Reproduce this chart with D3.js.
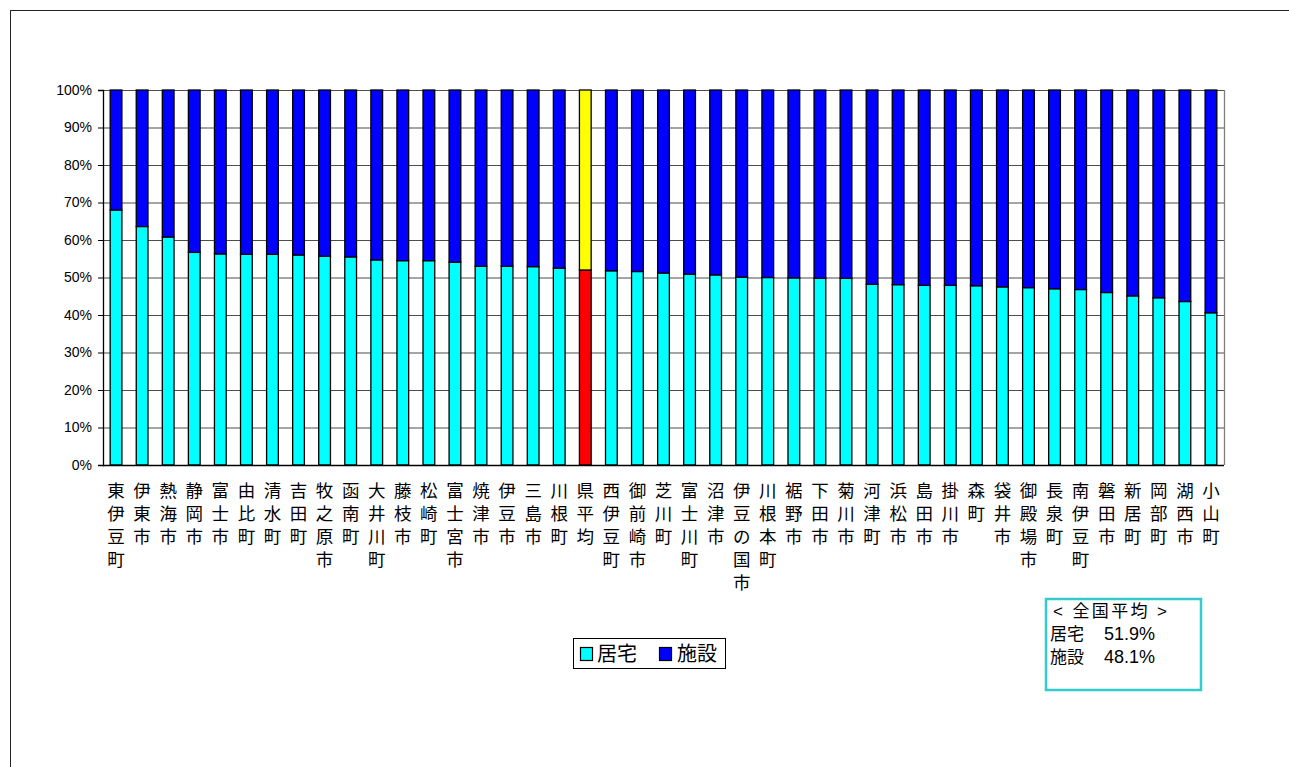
<!DOCTYPE html>
<html>
<head>
<meta charset="utf-8">
<script src="https://cdn.jsdelivr.net/npm/d3@7"></script>
<style>
  body { margin: 0; background: #fff; }
  svg { display: block; }
  text { font-family: "Liberation Sans", "Noto Sans CJK JP", sans-serif; }
</style>
</head>
<body>
<svg id="chart" width="1289" height="767"></svg>
<script>
// 市町別 居宅/施設 割合 (%)
const categories = ["東伊豆町", "伊東市", "熱海市", "静岡市", "富士市", "由比町", "清水町", "吉田町",
  "牧之原市", "函南町", "大井川町", "藤枝市", "松崎町", "富士宮市", "焼津市", "伊豆市", "三島市",
  "川根町", "県平均", "西伊豆町", "御前崎市", "芝川町", "富士川町", "沼津市", "伊豆の国市", "川根本町",
  "裾野市", "下田市", "菊川市", "河津町", "浜松市", "島田市", "掛川市", "森町", "袋井市", "御殿場市",
  "長泉町", "南伊豆町", "磐田市", "新居町", "岡部町", "湖西市", "小山町"];
const homeShare = [68.0, 63.6, 60.8, 56.7, 56.3, 56.2, 56.2, 56.0, 55.7, 55.5, 54.7, 54.5, 54.5, 54.1,
  53.0, 53.0, 52.9, 52.5, 52.0, 51.8, 51.6, 51.2, 50.9, 50.7, 50.1, 50.0, 49.9, 49.8, 49.8, 48.2, 48.1,
  47.9, 47.9, 47.8, 47.5, 47.3, 47.0, 46.8, 46.0, 45.1, 44.6, 43.6, 40.6];
const facilityShare = homeShare.map(v => +(100 - v).toFixed(1));
const seriesNames = ["居宅", "施設"];
const yTicks = [0, 10, 20, 30, 40, 50, 60, 70, 80, 90, 100];
const averageLabel = "県平均";
const nationalLines = [["居宅", "51.9%"], ["施設", "48.1%"]];

const COLORS = { home: "#00ffff", facility: "#0000ff", avgHome: "#ff0000", avgFacility: "#ffff00" };

const svg = d3.select("#chart");
const margin = { top: 90, left: 103, right: 1224, bottom: 465 };

// outer frame
svg.append("rect").attr("x", 10.5).attr("y", 10.5).attr("width", 1400).attr("height", 900)
  .attr("fill", "none").attr("stroke", "#222").attr("stroke-width", 1);

const x = d3.scaleBand().domain(categories).range([margin.left, margin.right])
  .paddingInner(0.55).paddingOuter(0.275);
const y = d3.scaleLinear().domain([0, 100]).range([margin.bottom, margin.top]);

// grid
svg.append("g").selectAll("line").data(yTicks.filter(d => d > 0)).join("line")
  .attr("x1", margin.left).attr("x2", margin.right)
  .attr("y1", d => y(d) + 0.5).attr("y2", d => y(d) + 0.5)
  .attr("stroke", "#4d4d4d").attr("stroke-width", 1.2);
svg.append("line").attr("x1", margin.right + 0.5).attr("x2", margin.right + 0.5)
  .attr("y1", margin.top).attr("y2", margin.bottom).attr("stroke", "#7f7f7f").attr("stroke-width", 1.3);

// bars
const rows = categories.map((c, i) => ({ c, home: homeShare[i], fac: facilityShare[i] }));
const g = svg.append("g");
rows.forEach(r => {
  const avg = r.c === averageLabel;
  g.append("rect")
    .attr("x", x(r.c)).attr("width", x.bandwidth())
    .attr("y", y(r.home)).attr("height", y(0) - y(r.home))
    .attr("fill", avg ? COLORS.avgHome : COLORS.home)
    .attr("stroke", "#000").attr("stroke-width", 1.3);
  g.append("rect")
    .attr("x", x(r.c)).attr("width", x.bandwidth())
    .attr("y", y(100)).attr("height", y(r.home) - y(100))
    .attr("fill", avg ? COLORS.avgFacility : COLORS.facility)
    .attr("stroke", "#000").attr("stroke-width", 1.3);
});

// y axis
const yAxis = svg.append("g").attr("transform", `translate(${margin.left},0)`)
  .call(d3.axisLeft(y).tickValues(yTicks).tickFormat(d => d + "%").tickSize(5).tickPadding(6));
yAxis.select(".domain").attr("stroke", "#000").attr("stroke-width", 1.3);
yAxis.selectAll(".tick line").attr("stroke", "#000");
yAxis.selectAll("text").style("font-size", "14px").attr("fill", "#000")
  .style("font-family", "'Liberation Sans', Arial, sans-serif");

// x axis baseline
svg.append("line").attr("x1", margin.left).attr("x2", margin.right)
  .attr("y1", margin.bottom + 0.5).attr("y2", margin.bottom + 0.5)
  .attr("stroke", "#000").attr("stroke-width", 1.3);

// vertical category labels
const labels = svg.append("g");
categories.forEach(c => {
  const t = labels.append("text")
    .attr("x", x(c) + x.bandwidth() / 2).attr("y", 497)
    .attr("text-anchor", "middle")
    .style("font-family", "'Noto Sans CJK JP', sans-serif")
    .style("font-size", "17.5px").attr("fill", "#000");
  Array.from(c).forEach((ch, k) => {
    t.append("tspan").attr("x", x(c) + x.bandwidth() / 2).attr("dy", k === 0 ? 0 : 23).text(ch);
  });
});

// legend
const lg = svg.append("g");
lg.append("rect").attr("x", 573.5).attr("y", 638.5).attr("width", 152).attr("height", 30)
  .attr("fill", "#fff").attr("stroke", "#000").attr("stroke-width", 1);
[[COLORS.home, 580, seriesNames[0], 597], [COLORS.facility, 659, seriesNames[1], 677]].forEach(([col, sx, name, tx]) => {
  lg.append("rect").attr("x", sx + 0.5).attr("y", 647.5).attr("width", 12).attr("height", 13)
    .attr("fill", col).attr("stroke", "#000").attr("stroke-width", 1.2);
  lg.append("text").attr("x", tx).attr("y", 661).text(name)
    .style("font-family", "'Noto Sans CJK JP', sans-serif").style("font-size", "20px");
});

// national average note
const note = svg.append("g");
note.append("rect").attr("x", 1046).attr("y", 599).attr("width", 155).attr("height", 91)
  .attr("fill", "#fff").attr("stroke", "#33cccc").attr("stroke-width", 2.5);
note.append("text").attr("x", 1053).attr("y", 617).text("< 全国平均 >").style("font-size", "17px")
  .attr("textLength", 114);
nationalLines.forEach(([name, val], i) => {
  note.append("text").attr("x", 1050).attr("y", 640 + i * 23).text(name)
    .style("font-family", "'Noto Sans CJK JP', sans-serif").style("font-size", "17px");
  note.append("text").attr("x", 1104).attr("y", 640 + i * 23).text(val).style("font-size", "18px");
});
</script>
</body>
</html>
